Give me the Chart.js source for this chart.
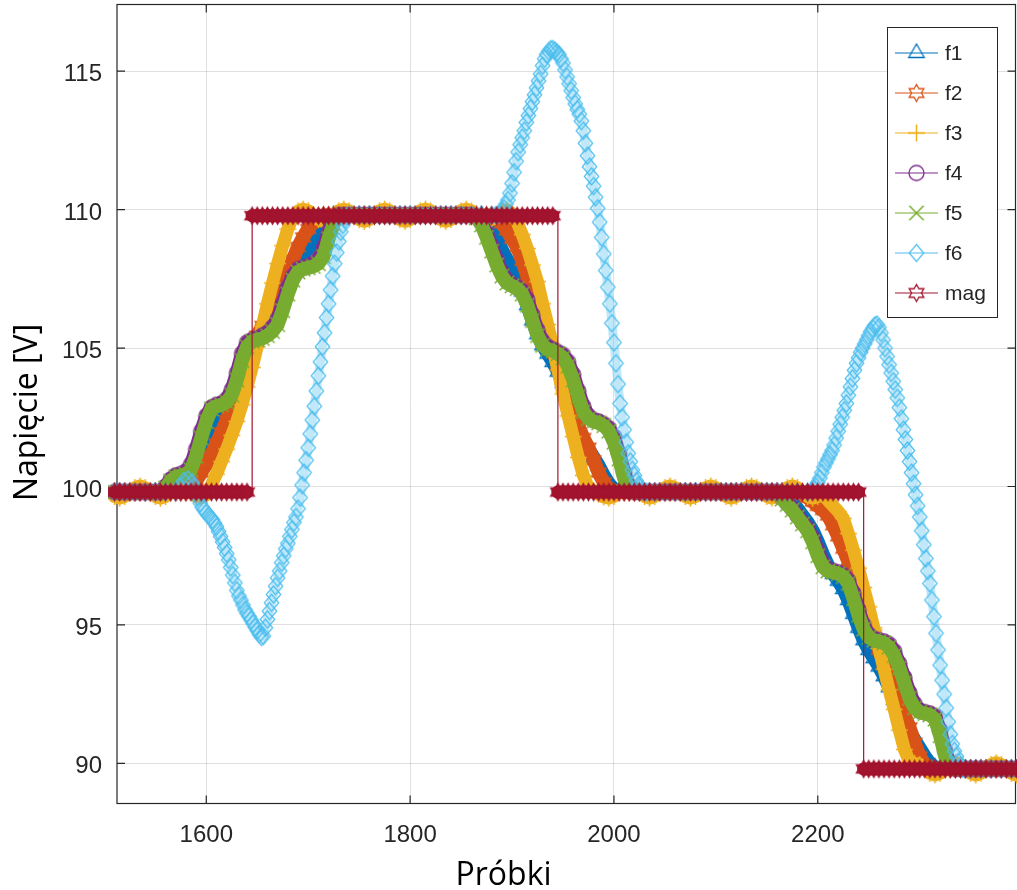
<!DOCTYPE html>
<html>
<head>
<meta charset="utf-8">
<script src="https://cdn.jsdelivr.net/npm/chart.js@4.4.1/dist/chart.umd.min.js"></script>
<style>
  html, body { margin: 0; padding: 0; background: #fff; }
  #wrap { width: 1017px; height: 890px; }
</style>
</head>
<body>
<div id="wrap"><canvas id="chart" width="1017" height="890"></canvas></div>
<script>
// sample index (x) shared by f1..f5 and mag
const samples = [
  1510,1515,1520,1525,1530,1535,1540,1545,1550,1555,
  1560,1565,1570,1575,1580,1585,1590,1595,1600,1605,
  1610,1615,1620,1625,1630,1635,1640,1645,1650,1655,
  1660,1665,1670,1675,1680,1685,1690,1695,1700,1705,
  1710,1715,1720,1725,1730,1735,1740,1745,1750,1755,
  1760,1765,1770,1775,1780,1785,1790,1795,1800,1805,
  1810,1815,1820,1825,1830,1835,1840,1845,1850,1855,
  1860,1865,1870,1875,1880,1885,1890,1895,1900,1905,
  1910,1915,1920,1925,1930,1935,1940,1945,1950,1955,
  1960,1965,1970,1975,1980,1985,1990,1995,2000,2005,
  2010,2015,2020,2025,2030,2035,2040,2045,2050,2055,
  2060,2065,2070,2075,2080,2085,2090,2095,2100,2105,
  2110,2115,2120,2125,2130,2135,2140,2145,2150,2155,
  2160,2165,2170,2175,2180,2185,2190,2195,2200,2205,
  2210,2215,2220,2225,2230,2235,2240,2245,2250,2255,
  2260,2265,2270,2275,2280,2285,2290,2295,2300,2305,
  2310,2315,2320,2325,2330,2335,2340,2345,2350,2355,
  2360,2365,2370,2375,2380,2385,2390,2395
];

const f1 = [
  99.8,99.8,99.8,99.8,99.8,99.8,99.8,99.8,99.8,99.8,
  99.8,99.8,99.85,99.95,100.1,100.25,100.6,101.1,101.55,101.95,
  102.25,102.5,102.75,103.1,103.6,104.2,104.75,105.1,105.35,105.6,
  105.8,106.05,106.35,106.8,107.3,107.8,108.15,108.4,108.6,108.85,
  109.15,109.5,109.72,109.8,109.8,109.8,109.8,109.8,109.8,109.8,
  109.8,109.8,109.8,109.8,109.8,109.8,109.8,109.8,109.8,109.8,
  109.8,109.8,109.8,109.8,109.8,109.8,109.8,109.8,109.8,109.8,
  109.8,109.8,109.8,109.6,109.3,108.95,108.55,108.2,107.85,107.5,
  107.05,106.55,106.0,105.5,105.1,104.8,104.5,104.15,103.75,103.25,
  102.7,102.15,101.7,101.35,101.05,100.75,100.4,100.1,99.9,99.8,
  99.8,99.8,99.8,99.8,99.8,99.8,99.8,99.8,99.8,99.8,
  99.8,99.8,99.8,99.8,99.8,99.8,99.8,99.8,99.8,99.8,
  99.8,99.8,99.8,99.8,99.8,99.8,99.8,99.8,99.8,99.8,
  99.8,99.8,99.65,99.45,99.2,98.95,98.7,98.4,98.0,97.55,
  97.15,96.85,96.6,96.3,95.9,95.4,94.9,94.45,94.1,93.8,
  93.5,93.15,92.75,92.3,91.85,91.45,91.15,90.85,90.55,90.25,
  90.0,89.85,89.8,89.8,89.8,89.8,89.8,89.8,89.8,89.8,
  89.8,89.8,89.8,89.8,89.8,89.8,89.8,89.8
];

const f2 = [
  99.8,99.8,99.8,99.8,99.8,99.8,99.8,99.8,99.8,99.8,
  99.8,99.8,99.8,99.8,99.8,99.95,100.2,100.5,100.8,101.15,
  101.55,101.95,102.4,102.85,103.4,103.95,104.5,105.0,105.45,105.8,
  106.15,106.5,106.85,107.25,107.7,108.2,108.65,109.0,109.3,109.55,
  109.72,109.8,109.8,109.8,109.8,109.8,109.8,109.8,109.8,109.8,
  109.8,109.8,109.8,109.8,109.8,109.8,109.8,109.8,109.8,109.8,
  109.8,109.8,109.8,109.8,109.8,109.8,109.8,109.8,109.8,109.8,
  109.8,109.8,109.8,109.8,109.8,109.7,109.5,109.25,108.95,108.65,
  108.15,107.6,107.0,106.45,105.9,105.4,104.9,104.4,103.85,103.3,
  102.75,102.2,101.75,101.4,100.95,100.5,100.15,99.9,99.8,99.8,
  99.8,99.8,99.8,99.8,99.8,99.8,99.8,99.8,99.8,99.8,
  99.8,99.8,99.8,99.8,99.8,99.8,99.8,99.8,99.8,99.8,
  99.8,99.8,99.8,99.8,99.8,99.8,99.8,99.8,99.8,99.8,
  99.8,99.8,99.8,99.8,99.8,99.75,99.6,99.45,99.3,99.15,
  98.95,98.6,98.2,97.75,97.3,96.8,96.3,95.75,95.2,94.65,
  94.1,93.6,93.1,92.6,92.15,91.75,91.3,90.75,90.25,89.95,
  89.8,89.8,89.8,89.8,89.8,89.8,89.8,89.8,89.8,89.8,
  89.8,89.8,89.8,89.8,89.8,89.8,89.8,89.8
];

const f3 = [
  99.64,99.58,99.64,99.8,99.96,100.02,99.96,99.8,99.64,99.58,
  99.64,99.8,99.96,100.02,99.96,99.8,99.64,99.6,99.7,100.05,
  100.45,100.9,101.35,101.85,102.35,102.95,103.6,104.3,105.05,105.8,
  106.6,107.35,108.05,108.7,109.3,109.75,109.95,110.02,109.96,109.8,
  109.64,109.58,109.64,109.8,109.96,110.02,109.96,109.8,109.64,109.58,
  109.64,109.8,109.96,110.02,109.96,109.8,109.64,109.58,109.64,109.8,
  109.96,110.02,109.96,109.8,109.64,109.58,109.64,109.8,109.96,110.02,
  109.96,109.8,109.64,109.58,109.64,109.8,109.96,110.0,109.85,109.55,
  109.1,108.6,108.0,107.4,106.6,105.85,105.05,104.2,103.35,102.55,
  101.8,101.05,100.4,99.95,99.85,99.72,99.62,99.58,99.64,99.8,
  99.96,100.02,99.96,99.8,99.64,99.58,99.64,99.8,99.96,100.02,
  99.96,99.8,99.64,99.58,99.64,99.8,99.96,100.02,99.96,99.8,
  99.64,99.58,99.64,99.8,99.96,100.02,99.96,99.8,99.64,99.58,
  99.64,99.8,99.96,100.02,99.96,99.8,99.64,99.58,99.64,99.7,
  99.5,99.3,99.1,98.85,98.3,97.7,97.05,96.35,95.65,94.9,
  94.15,93.4,92.65,91.95,91.2,90.5,90.05,90.0,89.96,89.8,
  89.64,89.58,89.64,89.8,89.96,90.02,89.96,89.8,89.64,89.58,
  89.64,89.8,89.96,90.02,89.96,89.8,89.64,89.58
];

const f4 = [
  99.8,99.8,99.8,99.8,99.8,99.8,99.8,99.8,99.8,99.8,
  100.0,100.25,100.4,100.45,100.55,100.8,101.35,102.0,102.55,102.85,
  102.95,103.0,103.15,103.5,104.1,104.8,105.2,105.3,105.35,105.45,
  105.55,105.75,106.05,106.6,107.2,107.6,107.85,107.9,107.95,108.05,
  108.2,108.6,109.2,109.65,109.8,109.8,109.8,109.8,109.8,109.8,
  109.8,109.8,109.8,109.8,109.8,109.8,109.8,109.8,109.8,109.8,
  109.8,109.8,109.8,109.8,109.8,109.8,109.8,109.8,109.8,109.8,
  109.8,109.75,109.55,109.15,108.7,108.2,107.75,107.45,107.3,107.2,
  107.05,106.75,106.2,105.65,105.25,105.05,104.95,104.85,104.75,104.5,
  104.05,103.45,102.9,102.55,102.4,102.35,102.25,102.1,101.8,101.2,
  100.5,100.0,99.8,99.8,99.8,99.8,99.8,99.8,99.8,99.8,
  99.8,99.8,99.8,99.8,99.8,99.8,99.8,99.8,99.8,99.8,
  99.8,99.8,99.8,99.8,99.8,99.8,99.8,99.8,99.8,99.8,
  99.8,99.6,99.4,99.2,98.95,98.7,98.5,98.15,97.7,97.25,
  97.0,96.95,96.9,96.8,96.6,96.15,95.55,95.0,94.65,94.5,
  94.45,94.4,94.3,94.05,93.6,93.1,92.55,92.15,91.9,91.85,
  91.8,91.7,91.2,90.45,89.95,89.8,89.8,89.8,89.8,89.8,
  89.8,89.8,89.8,89.8,89.8,89.8,89.8,89.8
];

const f5 = [
  99.8,99.8,99.8,99.8,99.8,99.8,99.8,99.8,99.8,99.8,
  99.95,100.2,100.35,100.4,100.45,100.6,101.1,101.75,102.35,102.8,
  102.9,102.95,103.05,103.3,103.85,104.55,105.05,105.25,105.3,105.35,
  105.45,105.6,105.85,106.35,106.95,107.45,107.75,107.85,107.9,107.95,
  108.05,108.3,108.95,109.5,109.75,109.8,109.8,109.8,109.8,109.8,
  109.8,109.8,109.8,109.8,109.8,109.8,109.8,109.8,109.8,109.8,
  109.8,109.8,109.8,109.8,109.8,109.8,109.8,109.8,109.8,109.8,
  109.8,109.7,109.45,109.0,108.5,108.0,107.6,107.35,107.25,107.15,
  106.95,106.55,106.0,105.45,105.1,104.95,104.9,104.8,104.65,104.35,
  103.85,103.25,102.7,102.45,102.35,102.3,102.2,102.0,101.6,101.0,
  100.3,99.9,99.8,99.8,99.8,99.8,99.8,99.8,99.8,99.8,
  99.8,99.8,99.8,99.8,99.8,99.8,99.8,99.8,99.8,99.8,
  99.8,99.8,99.8,99.8,99.8,99.8,99.8,99.8,99.8,99.8,
  99.8,99.55,99.35,99.15,98.9,98.65,98.4,98.0,97.5,97.1,
  96.95,96.9,96.85,96.75,96.5,95.95,95.35,94.85,94.55,94.45,
  94.4,94.35,94.2,93.9,93.45,92.9,92.35,92.0,91.85,91.8,
  91.75,91.6,91.0,90.25,89.85,89.8,89.8,89.8,89.8,89.8,
  89.8,89.8,89.8,89.8,89.8,89.8,89.8,89.8
];

const mag = [
  99.8,99.8,99.8,99.8,99.8,99.8,99.8,99.8,99.8,99.8,
  99.8,99.8,99.8,99.8,99.8,99.8,99.8,99.8,99.8,99.8,
  99.8,99.8,99.8,99.8,99.8,99.8,99.8,109.78,109.78,109.78,
  109.78,109.78,109.78,109.78,109.78,109.78,109.78,109.78,109.78,109.78,
  109.78,109.78,109.78,109.78,109.78,109.78,109.78,109.78,109.78,109.78,
  109.78,109.78,109.78,109.78,109.78,109.78,109.78,109.78,109.78,109.78,
  109.78,109.78,109.78,109.78,109.78,109.78,109.78,109.78,109.78,109.78,
  109.78,109.78,109.78,109.78,109.78,109.78,109.78,109.78,109.78,109.78,
  109.78,109.78,109.78,109.78,109.78,109.78,109.78,99.8,99.8,99.8,
  99.8,99.8,99.8,99.8,99.8,99.8,99.8,99.8,99.8,99.8,
  99.8,99.8,99.8,99.8,99.8,99.8,99.8,99.8,99.8,99.8,
  99.8,99.8,99.8,99.8,99.8,99.8,99.8,99.8,99.8,99.8,
  99.8,99.8,99.8,99.8,99.8,99.8,99.8,99.8,99.8,99.8,
  99.8,99.8,99.8,99.8,99.8,99.8,99.8,99.8,99.8,99.8,
  99.8,99.8,99.8,99.8,99.8,99.8,99.8,89.8,89.8,89.8,
  89.8,89.8,89.8,89.8,89.8,89.8,89.8,89.8,89.8,89.8,
  89.8,89.8,89.8,89.8,89.8,89.8,89.8,89.8,89.8,89.8,
  89.8,89.8,89.8,89.8,89.8,89.8,89.8,89.8
];

// f6 has its own, denser sampling on the steep parts
const f6Samples = [
  1510,1520,1530,1540,1550,1560,1570,1574,1578,1582,
  1586,1588,1590,1592,1594,1596,1598,1600,1602,1604,
  1606,1608,1610,1612,1614,1616,1618,1620,1622,1624,
  1626,1628,1630,1632,1634,1636,1638,1640,1642,1644,
  1646,1648,1650,1652,1654,1656,1658,1660,1662,1664,
  1666,1668,1670,1672,1674,1676,1678,1680,1682,1684,
  1686,1688,1690,1692,1694,1696,1698,1700,1702,1704,
  1706,1708,1710,1712,1714,1716,1718,1720,1722,1724,
  1726,1728,1730,1732,1734,1736,1738,1740,1750,1760,
  1770,1780,1790,1800,1810,1820,1830,1840,1850,1860,
  1870,1880,1884,1886,1888,1890,1892,1894,1896,1898,
  1900,1902,1904,1906,1908,1910,1912,1914,1916,1918,
  1920,1922,1924,1926,1928,1930,1932,1934,1936,1938,
  1940,1942,1944,1946,1948,1950,1952,1954,1956,1958,
  1960,1962,1964,1966,1968,1970,1972,1974,1976,1978,
  1980,1982,1984,1986,1988,1990,1992,1994,1996,1998,
  2000,2002,2004,2006,2008,2010,2012,2014,2016,2018,
  2020,2022,2024,2026,2028,2030,2032,2040,2050,2060,
  2070,2080,2090,2100,2110,2120,2130,2140,2150,2160,
  2170,2180,2190,2194,2196,2198,2200,2202,2204,2206,
  2208,2210,2212,2214,2216,2218,2220,2222,2224,2226,
  2228,2230,2232,2234,2236,2238,2240,2242,2244,2246,
  2248,2250,2252,2254,2256,2258,2260,2262,2264,2266,
  2268,2270,2272,2274,2276,2278,2280,2282,2284,2286,
  2288,2290,2292,2294,2296,2298,2300,2302,2304,2306,
  2308,2310,2312,2314,2316,2318,2320,2322,2324,2326,
  2328,2330,2332,2334,2336,2338,2340,2342,2344,2350,
  2360,2370,2380,2390,2400
];
const f6 = [
  99.8,99.8,99.8,99.8,99.8,99.8,99.8,100.0,100.2,100.25,
  100.15,100.0,99.8,99.6,99.4,99.25,99.15,99.05,98.95,98.88,
  98.8,98.68,98.55,98.38,98.2,98.0,97.8,97.58,97.35,97.08,
  96.8,96.52,96.25,96.05,95.9,95.72,95.55,95.42,95.3,95.18,
  95.05,94.92,94.8,94.67,94.57,94.6,94.9,95.2,95.5,95.8,
  96.1,96.4,96.7,96.95,97.25,97.5,97.75,97.95,98.2,98.45,
  98.7,98.9,99.2,99.6,100.05,100.5,100.95,101.4,101.9,102.4,
  102.9,103.45,104.0,104.5,105.05,105.55,106.1,106.6,107.1,107.6,
  108.05,108.45,108.85,109.2,109.45,109.65,109.75,109.8,109.8,109.8,
  109.8,109.8,109.8,109.8,109.8,109.8,109.8,109.8,109.8,109.8,
  109.8,109.8,109.8,109.82,109.85,109.95,110.05,110.2,110.35,110.6,
  110.95,111.35,111.75,112.08,112.35,112.6,112.85,113.15,113.4,113.65,
  113.9,114.15,114.4,114.65,114.9,115.2,115.45,115.6,115.72,115.8,
  115.8,115.75,115.68,115.6,115.45,115.3,115.05,114.8,114.55,114.3,
  114.05,113.82,113.62,113.45,113.2,112.85,112.4,111.95,111.55,111.2,
  110.85,110.45,110.05,109.55,109.0,108.4,107.8,107.2,106.6,105.9,
  105.2,104.45,103.7,103.0,102.5,102.05,101.6,101.2,100.9,100.6,
  100.4,100.2,100.05,99.95,99.88,99.82,99.8,99.8,99.8,99.8,
  99.8,99.8,99.8,99.8,99.8,99.8,99.8,99.8,99.8,99.8,
  99.8,99.8,99.8,99.85,99.9,100.0,100.15,100.3,100.5,100.7,
  100.85,101.0,101.15,101.3,101.5,101.75,102.0,102.25,102.5,102.75,
  103.0,103.3,103.6,103.9,104.2,104.45,104.65,104.85,105.0,105.15,
  105.3,105.45,105.6,105.72,105.82,105.85,105.75,105.55,105.3,105.0,
  104.7,104.4,104.1,103.8,103.5,103.2,102.85,102.45,102.05,101.7,
  101.3,100.9,100.5,100.1,99.7,99.3,98.9,98.4,97.9,97.4,
  96.95,96.5,95.9,95.3,94.7,94.1,93.55,93.0,92.5,92.0,
  91.5,91.05,90.7,90.45,90.25,90.05,89.9,89.82,89.8,89.8,
  89.8,89.8,89.8,89.8,89.8
];

const xTicks = [1600, 1800, 2000, 2200];
const yTicks = [90, 95, 100, 105, 110, 115];
const X_MIN = 1512.4, X_MAX = 2394;
const Y_MIN = 88.55, Y_MAX = 117.41;

[f1, f2, f3, f4, f5, mag].forEach((s, i) => {
  if (s.length !== samples.length) console.error('length mismatch in series', i, s.length);
});
if (f6.length !== f6Samples.length) console.error('length mismatch f6', f6.length, f6Samples.length);

const AXIS = '#262626';
const TICK_FONT = "'Liberation Sans', Arial, sans-serif";
const TITLE_FONT = "'Open Sans', 'Noto Sans', sans-serif";

// MATLAB-like marker glyphs, drawn once into small canvases
function makeMarker(shape, color, r, lw, fill) {
  const size = Math.ceil(2 * r + lw + 4);
  const c = document.createElement('canvas');
  c.width = c.height = size;
  const g = c.getContext('2d');
  g.translate(size / 2, size / 2);
  g.strokeStyle = color;
  g.fillStyle = color;
  g.lineWidth = lw;
  g.beginPath();
  if (shape === 'triangle') {
    g.moveTo(0, -r);
    g.lineTo(r * 0.866, r * 0.5);
    g.lineTo(-r * 0.866, r * 0.5);
    g.closePath();
  } else if (shape === 'hexagram') {
    for (let i = 0; i < 12; i++) {
      const a = -Math.PI / 2 + i * Math.PI / 6;
      const rr = i % 2 ? r / Math.sqrt(3) : r;
      const px = Math.cos(a) * rr, py = Math.sin(a) * rr;
      if (i === 0) g.moveTo(px, py); else g.lineTo(px, py);
    }
    g.closePath();
  } else if (shape === 'plus') {
    g.moveTo(-r, 0); g.lineTo(r, 0);
    g.moveTo(0, -r); g.lineTo(0, r);
  } else if (shape === 'circle') {
    g.arc(0, 0, r, 0, Math.PI * 2);
  } else if (shape === 'cross') {
    const d = r * 0.8;
    g.moveTo(-d, -d); g.lineTo(d, d);
    g.moveTo(-d, d); g.lineTo(d, -d);
  } else if (shape === 'diamond') {
    g.moveTo(0, -r); g.lineTo(r * 0.85, 0);
    g.lineTo(0, r); g.lineTo(-r * 0.85, 0);
    g.closePath();
  }
  if (fill) g.fill();
  g.stroke();
  return c;
}

const COLORS = {
  f1: '#0072BD', f2: '#D95319', f3: '#EDB120', f4: '#7E2F8E',
  f5: '#77AC30', f6: '#4DBEEE', mag: '#A2142F',
};

const MARKERS = {
  f1: makeMarker('triangle', COLORS.f1, 9, 1.3, false),
  f2: makeMarker('hexagram', COLORS.f2, 8.5, 1.3, false),
  f3: makeMarker('plus', COLORS.f3, 8.5, 1.5, false),
  f4: makeMarker('circle', COLORS.f4, 7.5, 1.3, false),
  f5: makeMarker('cross', COLORS.f5, 9, 1.5, false),
  f6: makeMarker('diamond', COLORS.f6, 8.5, 1.2, false),
  mag: makeMarker('hexagram', COLORS.mag, 8.5, 1.2, true),
};
// legend uses the open glyph for mag (the band in the plot is solid only because of overlap)
const LEGEND_MARKERS = Object.assign({}, MARKERS, {
  mag: makeMarker('hexagram', COLORS.mag, 8.5, 1.3, false),
});

function toPoints(xs, ys) {
  return xs.map((x, i) => ({ x, y: ys[i] }));
}

function series(label, xs, ys, width, order, extra) {
  return Object.assign({
    label,
    data: toPoints(xs, ys),
    borderColor: COLORS[label],
    backgroundColor: COLORS[label],
    borderWidth: width,
    borderJoinStyle: 'round',
    borderCapStyle: 'round',
    pointStyle: MARKERS[label],
    pointRadius: 9,
    pointHoverRadius: 9,
    tension: 0,
    order,
    clip: 9,
  }, extra || {});
}

const datasets = [
  series('f1', samples, f1, 14, 7),
  series('f2', samples, f2, 14, 6),
  series('f3', samples, f3, 13, 5),
  series('f4', samples, f4, 14, 4),
  series('f5', samples, f5, 14, 3),
  series('f6', f6Samples, f6, 9, 2, { borderColor: 'rgba(77,190,238,0.35)' }),
  series('mag', samples, mag, 1.2, 1, {
    stepped: 'before',
    segment: {
      borderWidth: ctx => (ctx.p0.parsed.y === ctx.p1.parsed.y ? 13 : 1.2),
    },
  }),
];

// frame with inward ticks, legend box and axis titles
const decor = {
  id: 'decor',
  beforeDatasetsDraw(chart) {
    const { ctx, chartArea: a, scales: { x, y } } = chart;
    ctx.save();
    ctx.strokeStyle = AXIS;
    ctx.lineWidth = 1.2;
    ctx.beginPath();
    xTicks.forEach(v => {
      const p = x.getPixelForValue(v);
      ctx.moveTo(p, a.bottom); ctx.lineTo(p, a.bottom - 8);
      ctx.moveTo(p, a.top); ctx.lineTo(p, a.top + 8);
    });
    yTicks.forEach(v => {
      const p = y.getPixelForValue(v);
      ctx.moveTo(a.left, p); ctx.lineTo(a.left + 8, p);
      ctx.moveTo(a.right, p); ctx.lineTo(a.right - 8, p);
    });
    ctx.stroke();
    ctx.strokeRect(a.left, a.top, a.right - a.left, a.bottom - a.top);
    ctx.restore();
  },
  afterDraw(chart) {
    const { ctx } = chart;
    ctx.save();

    // legend
    const box = { left: 887.5, top: 27.5, width: 110, height: 290 };
    ctx.fillStyle = '#fff';
    ctx.fillRect(box.left, box.top, box.width, box.height);
    ctx.strokeStyle = AXIS;
    ctx.lineWidth = 1;
    ctx.strokeRect(box.left, box.top, box.width, box.height);
    ctx.font = '21px ' + TICK_FONT;
    ctx.textBaseline = 'middle';
    ctx.textAlign = 'left';
    chart.data.datasets.forEach((ds, i) => {
      const cy = 53 + i * 40;
      ctx.strokeStyle = COLORS[ds.label];
      ctx.lineWidth = 1.2;
      ctx.beginPath();
      ctx.moveTo(895, cy);
      ctx.lineTo(938, cy);
      ctx.stroke();
      const m = LEGEND_MARKERS[ds.label];
      ctx.drawImage(m, 916.5 - m.width / 2, cy - m.height / 2);
      ctx.fillStyle = AXIS;
      ctx.fillText(ds.label, 945, cy + 1);
    });

    // axis titles
    ctx.fillStyle = '#000';
    ctx.font = '32px ' + TITLE_FONT;
    ctx.textAlign = 'center';
    ctx.textBaseline = 'middle';
    ctx.fillText('Próbki', 503.5, 876);
    ctx.translate(27.5, 412.5);
    ctx.rotate(-Math.PI / 2);
    ctx.fillText('Napięcie [V]', 0, 0);
    ctx.restore();
  },
};

function noPad(s) {
  s.paddingLeft = 0;
  s.paddingRight = 0;
  s.paddingTop = 0;
  s.paddingBottom = 0;
}

new Chart(document.getElementById('chart'), {
  type: 'line',
  data: { datasets },
  options: {
    responsive: false,
    animation: false,
    events: [],
    layout: { autoPadding: false, padding: { top: 4.5, right: 1.5, left: 0, bottom: 0 } },
    plugins: {
      legend: { display: false },
      tooltip: { enabled: false },
    },
    scales: {
      x: {
        type: 'linear',
        min: X_MIN,
        max: X_MAX,
        afterFit: s => { s.height = 86.5; noPad(s); },
        afterBuildTicks: s => { s.ticks = xTicks.map(value => ({ value })); },
        grid: { color: 'rgba(0,0,0,0.12)', lineWidth: 1, drawTicks: false },
        border: { display: false },
        ticks: {
          color: AXIS,
          font: { family: TICK_FONT, size: 24 },
          padding: 17,
          maxRotation: 0,
          autoSkip: false,
          callback: v => String(v),
        },
      },
      y: {
        type: 'linear',
        min: Y_MIN,
        max: Y_MAX,
        afterFit: s => { s.width = 117; noPad(s); },
        afterBuildTicks: s => { s.ticks = yTicks.map(value => ({ value })); },
        grid: { color: 'rgba(0,0,0,0.12)', lineWidth: 1, drawTicks: false },
        border: { display: false },
        ticks: {
          color: AXIS,
          font: { family: TICK_FONT, size: 24 },
          padding: 15,
          labelOffset: 3.5,
          callback: v => String(v),
        },
      },
    },
  },
  plugins: [decor],
});
</script>
</body>
</html>
